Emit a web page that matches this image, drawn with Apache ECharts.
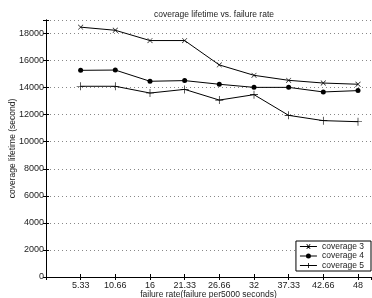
<!DOCTYPE html>
<html>
<head>
<meta charset="utf-8">
<script src="https://cdn.jsdelivr.net/npm/echarts@6/dist/echarts.min.js"></script>
<style>
  html, body { margin: 0; padding: 0; background: #fff; }
  #main { width: 372px; height: 298px; }
</style>
</head>
<body>
<div id="main"></div>
<script>
// failure rate (failure per 5000 seconds)
const failureRates = [5.33, 10.66, 16, 21.33, 26.66, 32, 37.33, 42.66, 48]
const xLabels = ['5.33', '10.66', '16', '21.33', '26.66', '32', '37.33', '42.66', '48']
// coverage lifetime (second)
const coverage3 = [18470, 18240, 17480, 17480, 15680, 14910, 14540, 14340, 14250]
const coverage4 = [15280, 15300, 14470, 14520, 14250, 14020, 14020, 13680, 13780]
const coverage5 = [14100, 14100, 13600, 13870, 13080, 13480, 11950, 11560, 11480]
const seriesNames = ['coverage 3', 'coverage 4', 'coverage 5']

const font = 'Liberation Sans, Arial, sans-serif'
const plus = 'path://M0,4.6 H10 V5.4 H0 Z M4.6,0 H5.4 V10 H4.6 Z'

// legend icons: short line with the marker in the middle (17 x 5 box)
const legendIcons = [
  'path://M0,2.1 H17 V2.9 H0 Z M6.3,0 L7.2,0 L10.7,5 L9.8,5 Z M9.8,0 L10.7,0 L7.2,5 L6.3,5 Z',
  'path://M0,2.1 H17 V2.9 H0 Z M11,2.5 A2.5,2.5 0 1 1 6,2.5 A2.5,2.5 0 1 1 11,2.5 Z',
  'path://M0,2.1 H17 V2.9 H0 Z M8.1,0 H8.9 V5 H8.1 Z'
]

function pairs(vals) {
  return vals.map((v, i) => [failureRates[i], v])
}

let chart = echarts.init(document.getElementById('main'))

let option = {
  animation: false,
  backgroundColor: '#fff',
  title: {
    text: 'coverage lifetime vs. failure rate',
    left: 209,
    textAlign: 'center',
    top: 5,
    textStyle: { fontFamily: font, fontSize: 8.5, fontWeight: 'normal', color: '#222' }
  },
  grid: { left: 46, right: 1, top: 20, bottom: 21, show: false, outerBoundsMode: 'none', containLabel: false },
  legend: {
    orient: 'vertical',
    right: 1,
    bottom: 27,
    itemWidth: 17,
    itemHeight: 5,
    itemGap: 0.5,
    padding: [1, 7, 1, 4],
    backgroundColor: '#fff',
    borderColor: '#000',
    borderWidth: 1,
    textStyle: { fontFamily: font, fontSize: 8.5, color: '#222' },
    itemStyle: { color: '#000', borderWidth: 0 },
    lineStyle: { width: 0 },
    data: seriesNames.map((n, i) => ({ name: n, icon: legendIcons[i] }))
  },
  xAxis: [{
    type: 'value',
    min: 0,
    max: 50,
    interval: 16 / 3,
    name: 'failure rate(failure per5000 seconds)',
    nameLocation: 'middle',
    nameGap: 13,
    nameMoveOverlap: false,
    nameTextStyle: { fontFamily: font, fontSize: 8.5, color: '#222' },
    axisLine: { onZero: false, lineStyle: { color: '#000', width: 1 } },
    axisTick: { inside: true, length: 3, lineStyle: { color: '#000' } },
    axisLabel: {
      fontFamily: font, fontSize: 9, color: '#222', margin: 4,
      showMaxLabel: false,
      formatter: function (v) {
        if (v < 1 || v > 49) return ''
        let i = Math.round(v / (16 / 3)) - 1
        return xLabels[i] || ''
      }
    },
    splitLine: { show: false }
  }, {
    type: 'value',
    position: 'top',
    min: 0,
    max: 50,
    interval: 16 / 3,
    axisLine: { lineStyle: { color: '#000', width: 1 } },
    axisTick: { inside: true, length: 3, lineStyle: { color: '#000' } },
    axisLabel: { show: false },
    splitLine: { show: false }
  }],
  yAxis: [{
    type: 'value',
    min: 0,
    max: 19000,
    interval: 2000,
    name: 'coverage lifetime (second)',
    nameLocation: 'middle',
    nameGap: 29,
    nameMoveOverlap: false,
    nameTextStyle: { fontFamily: font, fontSize: 8.5, color: '#222' },
    axisLine: { show: true, onZero: false, lineStyle: { color: '#000', width: 1 } },
    axisTick: { show: true, inside: true, length: 3, lineStyle: { color: '#000' } },
    axisLabel: {
      fontFamily: font, fontSize: 9, color: '#222', margin: 2,
      formatter: function (v) { return v % 2000 === 0 ? String(v) : '' }
    },
    splitLine: { show: true, lineStyle: { color: '#888', type: [1, 3], width: 1 } }
  }, {
    type: 'value',
    position: 'right',
    min: 0,
    max: 19000,
    interval: 2000,
    axisLine: { show: true, lineStyle: { color: '#000', width: 1 } },
    axisTick: { show: true, inside: true, length: 3, lineStyle: { color: '#000' } },
    axisLabel: { show: false },
    splitLine: { show: false }
  }],
  series: [{
    name: seriesNames[0],
    type: 'line',
    data: pairs(coverage3),
    symbol: plus,
    symbolRotate: 45,
    symbolSize: 7,
    itemStyle: { color: '#000' },
    lineStyle: { color: '#000', width: 1 }
  }, {
    name: seriesNames[1],
    type: 'line',
    data: pairs(coverage4),
    symbol: 'circle',
    symbolSize: 5,
    itemStyle: { color: '#000' },
    lineStyle: { color: '#000', width: 1 }
  }, {
    name: seriesNames[2],
    type: 'line',
    data: pairs(coverage5),
    symbol: plus,
    symbolSize: 8,
    itemStyle: { color: '#000' },
    lineStyle: { color: '#000', width: 1 }
  }]
}

chart.setOption(option)
</script>
</body>
</html>
